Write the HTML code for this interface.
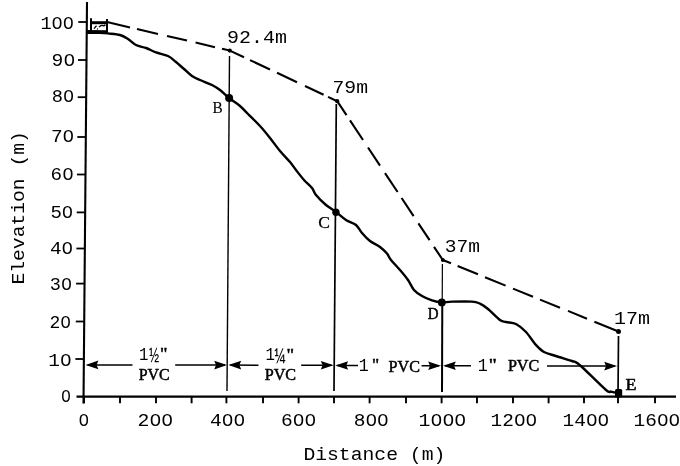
<!DOCTYPE html>
<html><head><meta charset="utf-8"><title>Elevation profile</title>
<style>
html,body{margin:0;padding:0;background:#fff;}
svg{display:block}
.m{font-family:"Liberation Mono","DejaVu Sans Mono",monospace;font-size:18.4px;fill:#000}
.s{font-family:"Liberation Serif","DejaVu Serif",serif;font-size:16.5px;fill:#000;stroke:#000;stroke-width:0.5}
</style></head><body>
<svg width="680" height="466" viewBox="0 0 680 466">
<rect width="680" height="466" fill="#fff"/>

<g stroke="#000" fill="none">
<line x1="87" y1="2" x2="83.5" y2="403.5" stroke-width="2.1"/>
<line x1="76.5" y1="396.6" x2="676" y2="396.6" stroke-width="2.4"/>
<line x1="78.3" y1="22.0" x2="86.8" y2="22.0" stroke-width="1.8"/>
<line x1="78.0" y1="60.0" x2="86.5" y2="60.0" stroke-width="1.8"/>
<line x1="77.7" y1="97.2" x2="86.2" y2="97.2" stroke-width="1.8"/>
<line x1="77.3" y1="137.0" x2="85.8" y2="137.0" stroke-width="1.8"/>
<line x1="77.0" y1="174.5" x2="85.5" y2="174.5" stroke-width="1.8"/>
<line x1="76.7" y1="212.4" x2="85.2" y2="212.4" stroke-width="1.8"/>
<line x1="76.4" y1="248.5" x2="84.9" y2="248.5" stroke-width="1.8"/>
<line x1="76.1" y1="283.6" x2="84.6" y2="283.6" stroke-width="1.8"/>
<line x1="75.8" y1="321.5" x2="84.3" y2="321.5" stroke-width="1.8"/>
<line x1="75.4" y1="359.0" x2="83.9" y2="359.0" stroke-width="1.8"/>
<line x1="84.0" y1="396" x2="84.0" y2="403.3" stroke-width="1.9"/>
<line x1="120.0" y1="396" x2="120.0" y2="403.3" stroke-width="1.9"/>
<line x1="156.0" y1="396" x2="156.0" y2="403.3" stroke-width="1.9"/>
<line x1="191.6" y1="396" x2="191.6" y2="403.3" stroke-width="1.9"/>
<line x1="226.4" y1="396" x2="226.4" y2="403.3" stroke-width="1.9"/>
<line x1="263.0" y1="396" x2="263.0" y2="403.3" stroke-width="1.9"/>
<line x1="298.6" y1="396" x2="298.6" y2="403.3" stroke-width="1.9"/>
<line x1="334.0" y1="396" x2="334.0" y2="403.3" stroke-width="1.9"/>
<line x1="369.6" y1="396" x2="369.6" y2="403.3" stroke-width="1.9"/>
<line x1="406.0" y1="396" x2="406.0" y2="403.3" stroke-width="1.9"/>
<line x1="441.6" y1="396" x2="441.6" y2="403.3" stroke-width="1.9"/>
<line x1="477.0" y1="396" x2="477.0" y2="403.3" stroke-width="1.9"/>
<line x1="513.0" y1="396" x2="513.0" y2="403.3" stroke-width="1.9"/>
<line x1="548.6" y1="396" x2="548.6" y2="403.3" stroke-width="1.9"/>
<line x1="584.0" y1="396" x2="584.0" y2="403.3" stroke-width="1.9"/>
<line x1="618.0" y1="396" x2="618.0" y2="403.3" stroke-width="1.9"/>
<line x1="655.0" y1="396" x2="655.0" y2="403.3" stroke-width="1.9"/>
<line x1="229.5" y1="56" x2="227" y2="391" stroke-width="1.4"/>
<line x1="336.3" y1="104" x2="334" y2="391" stroke-width="1.7"/>
<line x1="442.4" y1="264" x2="442.2" y2="302" stroke-width="1.2"/>
<line x1="442.3" y1="302" x2="442" y2="392" stroke-width="2"/>
<line x1="618.5" y1="336" x2="618" y2="396" stroke-width="1.7"/>
<path d="M87.0,32.5 C89.2,32.5 96.5,32.6 100.0,32.8 C103.5,32.9 104.7,33.0 108.0,33.4 C111.3,33.8 116.7,34.1 120.0,35.0 C123.3,35.9 125.3,37.3 128.0,39.0 C130.7,40.7 133.0,43.5 136.0,45.0 C139.0,46.5 142.7,46.8 146.0,48.0 C149.3,49.2 152.3,51.1 156.0,52.4 C159.7,53.7 164.7,54.4 168.0,56.0 C171.3,57.6 173.3,59.8 176.0,62.0 C178.7,64.2 181.3,66.7 184.0,69.0 C186.7,71.3 189.3,74.2 192.0,76.0 C194.7,77.8 196.7,78.5 200.0,80.0 C203.3,81.5 208.7,83.3 212.0,85.0 C215.3,86.7 217.2,87.8 220.0,90.0 C222.8,92.2 225.7,95.3 229.0,98.0 C232.3,100.7 236.8,103.3 240.0,106.0 C243.2,108.7 244.7,110.7 248.0,114.0 C251.3,117.3 256.3,122.0 260.0,126.0 C263.7,130.0 266.7,133.8 270.0,138.0 C273.3,142.2 276.7,147.0 280.0,151.0 C283.3,155.0 287.3,158.8 290.0,162.0 C292.7,165.2 293.7,167.0 296.0,170.0 C298.3,173.0 301.3,177.0 304.0,180.0 C306.7,183.0 310.0,185.5 312.0,188.0 C314.0,190.5 313.7,192.2 316.0,195.0 C318.3,197.8 322.7,202.2 326.0,205.0 C329.3,207.8 332.7,209.5 336.0,212.0 C339.3,214.5 342.7,217.8 346.0,220.0 C349.3,222.2 353.3,222.8 356.0,225.0 C358.7,227.2 359.7,230.3 362.0,233.0 C364.3,235.7 367.0,238.7 370.0,241.0 C373.0,243.3 377.2,244.9 380.0,247.0 C382.8,249.1 385.2,251.4 387.0,253.6 C388.8,255.8 388.8,257.3 391.0,260.0 C393.2,262.7 397.2,266.7 400.0,270.0 C402.8,273.3 405.7,276.7 408.0,280.0 C410.3,283.3 411.7,287.3 414.0,290.0 C416.3,292.7 419.0,294.3 422.0,296.0 C425.0,297.7 428.7,299.3 432.0,300.4 C435.3,301.5 438.7,302.2 442.0,302.4 C445.3,302.6 447.0,301.7 452.0,301.6 C457.0,301.5 467.3,301.3 472.0,301.6 C476.7,301.9 477.3,302.4 480.0,303.6 C482.7,304.8 484.7,306.3 488.0,309.0 C491.3,311.7 497.0,317.8 500.0,320.0 C503.0,322.2 503.3,321.3 506.0,322.0 C508.7,322.7 512.7,322.3 516.0,324.0 C519.3,325.7 522.7,328.5 526.0,332.0 C529.3,335.5 533.0,341.7 536.0,345.0 C539.0,348.3 540.7,350.2 544.0,352.0 C547.3,353.8 551.3,354.5 556.0,356.0 C560.7,357.5 568.7,359.9 572.0,361.0 C575.3,362.1 574.3,361.4 576.0,362.4 C577.7,363.4 577.0,362.4 582.0,367.0 C587.0,371.6 601.2,385.9 606.0,390.0 C610.8,394.1 609.0,391.1 611.0,391.6 C613.0,392.1 616.8,392.8 618.0,393.0" stroke-width="2.4" stroke-linejoin="round" stroke-linecap="round"/>
<path d="M107.0,22.0 L130.0,27.4 M137.0,29.0 L158.0,33.9 M167.0,36.0 L187.0,40.6 M195.6,42.6 L215.0,47.2 M222.0,48.8 L229.8,50.6 M229.8,50.6 L244.0,57.3 M250.0,60.1 L270.0,69.5 M277.0,72.8 L297.0,82.3 M305.0,86.0 L323.6,94.8 M328.0,96.9 L337.2,101.2 M337.2,101.2 L346.5,115.2 M350.0,120.4 L363.0,140.0 M368.0,147.5 L380.0,165.6 M385.0,173.1 L397.6,192.0 M401.6,198.0 L413.6,216.1 M418.4,223.3 L429.6,240.2 M434.0,246.8 L442.8,260.0 M442.8,260.0 L451.0,263.3 M457.6,266.0 L478.0,274.3 M485.0,277.2 L505.6,285.6 M513.0,288.6 L533.0,296.7 M540.0,299.6 L560.0,307.7 M568.0,310.9 L587.0,318.7 M594.4,321.7 L618.5,331.5" stroke-width="2.1" stroke-linecap="butt"/>
<path d="M91,18.2 L91,33 M107,19 L107,33" stroke-width="2"/>
<path d="M90,22.7 L108,22.7" stroke-width="3"/>
<path d="M86.5,32 L108,32.2" stroke-width="3.8"/>
<path d="M94,28.6 L96.5,25.8 M97,28.8 L98,29.2 M99,27.2 q2,-2.6 4,-1.6 q1,0.6 2.4,-0.8" stroke-width="1.3"/>
<path d="M87.6,364.9 L132.5,365.0 M175.2,365.0 L225.0,365.1" stroke-width="1.5"/>
<path d="M230.4,365.1 L258.5,365.2 M301.2,365.2 L331.6,365.3" stroke-width="1.5"/>
<path d="M337.3,365.5 L358.0,365.5 M421.6,365.7 L439.0,365.7" stroke-width="1.5"/>
<path d="M445.0,365.8 L471.0,365.8 M547.0,366.0 L615.0,366.1" stroke-width="1.5"/>
</g>
<path d="M85.6,364.9 L98.4,360.6 L96.6,364.9 L98.4,369.2 Z" fill="#000"/>
<path d="M227.0,365.1 L214.2,360.8 L216.0,365.1 L214.2,369.4 Z" fill="#000"/>
<path d="M228.4,365.1 L241.2,360.8 L239.4,365.1 L241.2,369.4 Z" fill="#000"/>
<path d="M333.6,365.3 L320.8,361.0 L322.6,365.3 L320.8,369.6 Z" fill="#000"/>
<path d="M335.3,365.5 L348.1,361.2 L346.3,365.5 L348.1,369.8 Z" fill="#000"/>
<path d="M441.0,365.7 L428.2,361.4 L430.0,365.7 L428.2,370.0 Z" fill="#000"/>
<path d="M443.0,365.8 L455.8,361.5 L454.0,365.8 L455.8,370.1 Z" fill="#000"/>
<path d="M617.0,366.1 L604.2,361.8 L606.0,366.1 L604.2,370.4 Z" fill="#000"/>
<circle cx="229.1" cy="98.0" r="4.0" fill="#000"/>
<circle cx="335.9" cy="212.2" r="3.7" fill="#000"/>
<circle cx="441.8" cy="302.4" r="3.9" fill="#000"/>
<circle cx="229.8" cy="50.6" r="2.1" fill="#000"/>
<circle cx="337.2" cy="101.2" r="2.1" fill="#000"/>
<circle cx="442.8" cy="260.0" r="2.0" fill="#000"/>
<circle cx="618.5" cy="331.5" r="2.5" fill="#000"/>
<rect x="615" y="389" width="7.2" height="8.4" rx="1.5" fill="#000"/>
<g class="m">
<text x="40.4" y="28.8" textLength="33.7" lengthAdjust="spacingAndGlyphs">100</text>
<text x="51.6" y="66.0" textLength="23.6" lengthAdjust="spacingAndGlyphs">90</text>
<text x="51.8" y="102.0" textLength="22.4" lengthAdjust="spacingAndGlyphs">80</text>
<text x="50.9" y="142.4" textLength="23.3" lengthAdjust="spacingAndGlyphs">70</text>
<text x="50.6" y="179.6" textLength="23.1" lengthAdjust="spacingAndGlyphs">60</text>
<text x="50.4" y="218.4" textLength="22.8" lengthAdjust="spacingAndGlyphs">50</text>
<text x="50.0" y="254.0" textLength="23.2" lengthAdjust="spacingAndGlyphs">40</text>
<text x="49.8" y="289.6" textLength="22.3" lengthAdjust="spacingAndGlyphs">30</text>
<text x="49.5" y="328.3" textLength="21.6" lengthAdjust="spacingAndGlyphs">20</text>
<text x="48.2" y="366.0" textLength="23.4" lengthAdjust="spacingAndGlyphs">10</text>
<text x="61.0" y="402.0" textLength="10.0" lengthAdjust="spacingAndGlyphs">0</text>
<text x="78.4" y="426.0" textLength="10.7" lengthAdjust="spacingAndGlyphs">0</text>
<text x="137.6" y="426.0" textLength="35.6" lengthAdjust="spacingAndGlyphs">200</text>
<text x="210.0" y="426.0" textLength="35.2" lengthAdjust="spacingAndGlyphs">400</text>
<text x="281.0" y="426.0" textLength="35.2" lengthAdjust="spacingAndGlyphs">600</text>
<text x="353.7" y="426.0" textLength="35.1" lengthAdjust="spacingAndGlyphs">800</text>
<text x="418.6" y="426.0" textLength="47.7" lengthAdjust="spacingAndGlyphs">1000</text>
<text x="490.6" y="426.0" textLength="46.6" lengthAdjust="spacingAndGlyphs">1200</text>
<text x="562.6" y="426.0" textLength="46.6" lengthAdjust="spacingAndGlyphs">1400</text>
<text x="633.6" y="426.0" textLength="46.6" lengthAdjust="spacingAndGlyphs">1600</text>
<text x="303.4" y="459.5" textLength="141.9" lengthAdjust="spacingAndGlyphs">Distance (m)</text>
<text transform="translate(23.5,283) rotate(-90)" x="-1.6" y="0" textLength="153.5" lengthAdjust="spacingAndGlyphs">Elevation (m)</text>
<text x="227.1" y="43.0" textLength="59.9" lengthAdjust="spacingAndGlyphs">92.4m</text>
<text x="332.5" y="93.0" textLength="35.5" lengthAdjust="spacingAndGlyphs">79m</text>
<text x="444.8" y="252.0" textLength="35.2" lengthAdjust="spacingAndGlyphs">37m</text>
<text x="614.1" y="323.6" textLength="36.0" lengthAdjust="spacingAndGlyphs">17m</text>
<text x="138.9" y="359.6" textLength="9.4" lengthAdjust="spacingAndGlyphs" font-size="17.5">1</text>
<text x="149.2" y="362.2" textLength="9.8" lengthAdjust="spacingAndGlyphs" font-size="22.0">½</text>
<text x="265.6" y="359.6" textLength="9.4" lengthAdjust="spacingAndGlyphs" font-size="17.5">1</text>
<text x="274.4" y="362.6" textLength="10.8" lengthAdjust="spacingAndGlyphs" font-size="22.0">¼</text>
<text x="358.8" y="371.4" textLength="10.0" lengthAdjust="spacingAndGlyphs">1</text>
<text x="477.8" y="371.2" textLength="10.0" lengthAdjust="spacingAndGlyphs">1</text>
</g>
<g class="s">
<text stroke-width="0.1" x="212.6" y="112.7" textLength="10.2" lengthAdjust="spacingAndGlyphs">B</text>
<text stroke-width="0.25" x="318.3" y="227.5" textLength="11.7" lengthAdjust="spacingAndGlyphs">C</text>
<text x="427.8" y="319.0" textLength="10.8" lengthAdjust="spacingAndGlyphs">D</text>
<text x="625.5" y="390.0" textLength="11.0" lengthAdjust="spacingAndGlyphs">E</text>
<text x="159.9" y="359.3" textLength="7.5" lengthAdjust="spacingAndGlyphs">"</text>
<text x="138.7" y="379.9" textLength="30.9" lengthAdjust="spacingAndGlyphs">PVC</text>
<text x="286.5" y="359.5" textLength="7.6" lengthAdjust="spacingAndGlyphs">"</text>
<text x="264.7" y="379.9" textLength="31.4" lengthAdjust="spacingAndGlyphs">PVC</text>
<text x="371.9" y="370.2" textLength="7.2" lengthAdjust="spacingAndGlyphs">"</text>
<text x="388.5" y="371.5" textLength="31.4" lengthAdjust="spacingAndGlyphs" font-size="17.5">PVC</text>
<text x="488.8" y="370.2" textLength="8.0" lengthAdjust="spacingAndGlyphs">"</text>
<text x="507.9" y="371.4" textLength="31.4" lengthAdjust="spacingAndGlyphs" font-size="17.5">PVC</text>
</g>
<ellipse cx="57.3" cy="22.7" rx="1.59" ry="2.94" fill="#fff"/>
<ellipse cx="68.5" cy="22.7" rx="1.59" ry="2.94" fill="#fff"/>
<ellipse cx="69.3" cy="59.9" rx="1.67" ry="2.94" fill="#fff"/>
<ellipse cx="68.6" cy="95.9" rx="1.58" ry="2.94" fill="#fff"/>
<ellipse cx="68.4" cy="136.3" rx="1.65" ry="2.94" fill="#fff"/>
<ellipse cx="67.9" cy="173.5" rx="1.64" ry="2.94" fill="#fff"/>
<ellipse cx="67.5" cy="212.3" rx="1.61" ry="2.94" fill="#fff"/>
<ellipse cx="67.4" cy="247.9" rx="1.64" ry="2.94" fill="#fff"/>
<ellipse cx="66.6" cy="283.5" rx="1.58" ry="2.94" fill="#fff"/>
<ellipse cx="65.7" cy="322.2" rx="1.53" ry="2.94" fill="#fff"/>
<ellipse cx="65.7" cy="359.9" rx="1.66" ry="2.94" fill="#fff"/>
<ellipse cx="66.0" cy="395.9" rx="1.42" ry="2.94" fill="#fff"/>
<ellipse cx="83.8" cy="419.9" rx="1.51" ry="2.94" fill="#fff"/>
<ellipse cx="155.4" cy="419.9" rx="1.68" ry="2.94" fill="#fff"/>
<ellipse cx="167.3" cy="419.9" rx="1.68" ry="2.94" fill="#fff"/>
<ellipse cx="227.6" cy="419.9" rx="1.66" ry="2.94" fill="#fff"/>
<ellipse cx="239.3" cy="419.9" rx="1.66" ry="2.94" fill="#fff"/>
<ellipse cx="298.6" cy="419.9" rx="1.66" ry="2.94" fill="#fff"/>
<ellipse cx="310.3" cy="419.9" rx="1.66" ry="2.94" fill="#fff"/>
<ellipse cx="371.3" cy="419.9" rx="1.66" ry="2.94" fill="#fff"/>
<ellipse cx="382.9" cy="419.9" rx="1.66" ry="2.94" fill="#fff"/>
<ellipse cx="436.4" cy="419.9" rx="1.69" ry="2.94" fill="#fff"/>
<ellipse cx="448.3" cy="419.9" rx="1.69" ry="2.94" fill="#fff"/>
<ellipse cx="460.3" cy="419.9" rx="1.69" ry="2.94" fill="#fff"/>
<ellipse cx="519.7" cy="419.9" rx="1.65" ry="2.94" fill="#fff"/>
<ellipse cx="531.4" cy="419.9" rx="1.65" ry="2.94" fill="#fff"/>
<ellipse cx="591.7" cy="419.9" rx="1.65" ry="2.94" fill="#fff"/>
<ellipse cx="603.4" cy="419.9" rx="1.65" ry="2.94" fill="#fff"/>
<ellipse cx="662.7" cy="419.9" rx="1.65" ry="2.94" fill="#fff"/>
<ellipse cx="674.4" cy="419.9" rx="1.65" ry="2.94" fill="#fff"/>
</svg></body></html>
